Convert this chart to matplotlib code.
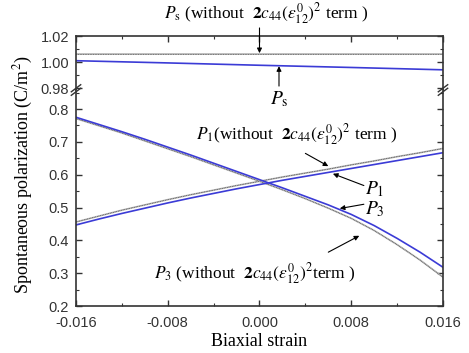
import matplotlib
matplotlib.use("Agg")
import matplotlib.pyplot as plt
from matplotlib.ticker import MultipleLocator

plt.rcParams['mathtext.fontset'] = 'stix'
plt.rcParams['font.family'] = ['Liberation Serif', 'DejaVu Serif']

# ---------------- data ----------------
strain = [-0.016, -0.014, -0.012, -0.010, -0.008, -0.006, -0.004, -0.002, 0.000,
          0.002, 0.004, 0.006, 0.008, 0.010, 0.012, 0.014, 0.016]
p3 = [0.775, 0.753, 0.731, 0.708, 0.684, 0.660, 0.635, 0.610, 0.585,
      0.560, 0.534, 0.508, 0.479, 0.445, 0.406, 0.364, 0.318]
p3_wo = [0.771, 0.749, 0.727, 0.703, 0.679, 0.655, 0.630, 0.605, 0.580,
         0.554, 0.527, 0.498, 0.467, 0.430, 0.387, 0.340, 0.288]
p1 = [0.447, 0.465, 0.482, 0.498, 0.514, 0.529, 0.543, 0.557, 0.570,
      0.583, 0.595, 0.607, 0.619, 0.631, 0.643, 0.655, 0.667]
p1_wo = [0.456, 0.474, 0.492, 0.508, 0.524, 0.539, 0.553, 0.567, 0.580,
         0.593, 0.605, 0.617, 0.630, 0.642, 0.655, 0.667, 0.680]
ps_strain = [-0.016, -0.008, 0.000, 0.008, 0.016]
ps = [1.001, 0.9993, 0.9975, 0.9958, 0.994]
ps_wo = [1.006, 1.006, 1.006, 1.006, 1.006]

xticks = [-0.016, -0.008, 0.000, 0.008, 0.016]
xticklabels = ['-0.016', '-0.008', '0.000', '0.008', '0.016']
top_yticks = [0.98, 1.00, 1.02]
top_yticklabels = ['0.98', '1.00', '1.02']
bot_yticks = [0.2, 0.3, 0.4, 0.5, 0.6, 0.7, 0.8]
bot_yticklabels = ['0.2', '0.3', '0.4', '0.5', '0.6', '0.7', '0.8']

term = r'$\mathbf{2}c_{44}(\varepsilon_{12}^{0})^{2}$'
lbl_ps_wo = r'$P_{\rm s}$ (without  ' + term + ' term )'
lbl_p1_wo = r'$P_{1}$(without  ' + term + ' term )'
lbl_p3_wo = r'$P_{3}$ (without  ' + term + 'term )'

# ---------------- figure ----------------
fig = plt.figure(figsize=(4.69, 3.53), dpi=100)
ax_t = fig.add_axes([0.16205, 0.745, 0.7825, 0.153])
ax_b = fig.add_axes([0.16205, 0.1331, 0.7825, 0.6119])

blue = '#3b3bd6'
gray = '#b4b4b4'
spine_c = '#333333'

def draw_wo(ax, x, y):
    ax.plot(x, y, color=gray, lw=1.2, solid_capstyle='butt')
    ax.plot(x, y, color='#333333', lw=0.5, ls=(0, (1.0, 1.4)))

draw_wo(ax_t, ps_strain, ps_wo)
ax_t.plot(ps_strain, ps, color=blue, lw=1.2)
draw_wo(ax_b, strain, p3_wo)
draw_wo(ax_b, strain, p1_wo)
ax_b.plot(strain, p3, color=blue, lw=1.2)
ax_b.plot(strain, p1, color=blue, lw=1.2)

for ax in (ax_t, ax_b):
    ax.set_xlim(-0.016, 0.016)
    for s in ax.spines.values():
        s.set_color(spine_c)
        s.set_linewidth(1.2)
    ax.tick_params(which='both', direction='in', colors=spine_c,
                   left=True, right=True, labelsize=10.5)
    ax.tick_params(which='major', length=4, width=1.0)
    ax.tick_params(which='minor', length=2, width=0.8)
    ax.xaxis.set_minor_locator(MultipleLocator(0.004))

ax_t.set_ylim(0.97846, 1.02)
ax_t.spines['bottom'].set_visible(False)
ax_t.tick_params(axis='x', which='both', bottom=False, top=True, labelbottom=False)
ax_t.set_xticks(xticks)
ax_t.set_yticks(top_yticks)
ax_t.set_yticklabels(top_yticklabels, family='Liberation Sans')
ax_t.yaxis.set_minor_locator(MultipleLocator(0.01))
ax_t.tick_params(axis='y', pad=5)

ax_b.set_ylim(0.2, 0.858)
ax_b.spines['top'].set_visible(False)
ax_b.tick_params(axis='x', which='both', top=False, bottom=True, pad=7)
ax_b.set_xticks(xticks)
ax_b.set_xticklabels(xticklabels, family='Liberation Sans')
ax_b.set_yticks(bot_yticks)
ax_b.set_yticklabels(bot_yticklabels, family='Liberation Sans')
ax_b.yaxis.set_minor_locator(MultipleLocator(0.05))
ax_b.tick_params(axis='y', pad=5)
ax_b.set_xlabel('Biaxial strain', fontsize=13, labelpad=2)

fig.text(0.05, 0.505, r'Spontaneous polarization (C/m$^2$)', rotation=90,
         ha='center', va='center', fontsize=13)

# break marks on the left and right spines
for xf in (0.16205, 0.16205 + 0.7825):
    for dy in (-0.005, 0.005):
        fig.add_artist(plt.Line2D([xf - 0.010, xf + 0.010],
                                  [0.745 + dy - 0.010, 0.745 + dy + 0.010],
                                  color=spine_c, lw=1.0, transform=fig.transFigure))

arrow = dict(arrowstyle='-|>', color='black', lw=0.8, mutation_scale=7,
             shrinkA=0, shrinkB=0)
fs = 12.5

# Ps annotations (top axes)
ax_t.annotate('', xy=(0.0, 1.0068), xytext=(0.0, 1.0262),
              arrowprops=arrow, annotation_clip=False)
ax_t.text(0.0006, 1.0372, lbl_ps_wo, ha='center', va='center', fontsize=fs,
          clip_on=False)
ax_t.annotate('', xy=(0.0017, 0.9968), xytext=(0.0017, 0.9815),
              arrowprops=arrow, annotation_clip=False)
ax_b.text(0.0017, 0.83, r'$P_{\rm s}$', ha='center', va='center', fontsize=14,
          clip_on=False)

# P1 annotations
ax_b.text(-0.0055, 0.721, lbl_p1_wo, ha='left', va='center', fontsize=fs)
ax_b.annotate('', xy=(0.0060, 0.626), xytext=(0.0040, 0.665), arrowprops=arrow)
ax_b.text(0.0092, 0.557, r'$P_{1}$', ha='left', va='center', fontsize=14)
ax_b.annotate('', xy=(0.0064, 0.603), xytext=(0.0091, 0.567), arrowprops=arrow)

# P3 annotations
ax_b.text(0.0092, 0.496, r'$P_{3}$', ha='left', va='center', fontsize=14)
ax_b.annotate('', xy=(0.0070, 0.497), xytext=(0.0091, 0.510), arrowprops=arrow)
ax_b.text(-0.0092, 0.300, lbl_p3_wo, ha='left', va='center', fontsize=fs)
ax_b.annotate('', xy=(0.0087, 0.414), xytext=(0.0060, 0.364), arrowprops=arrow)

fig.savefig('out.png', dpi=100)
